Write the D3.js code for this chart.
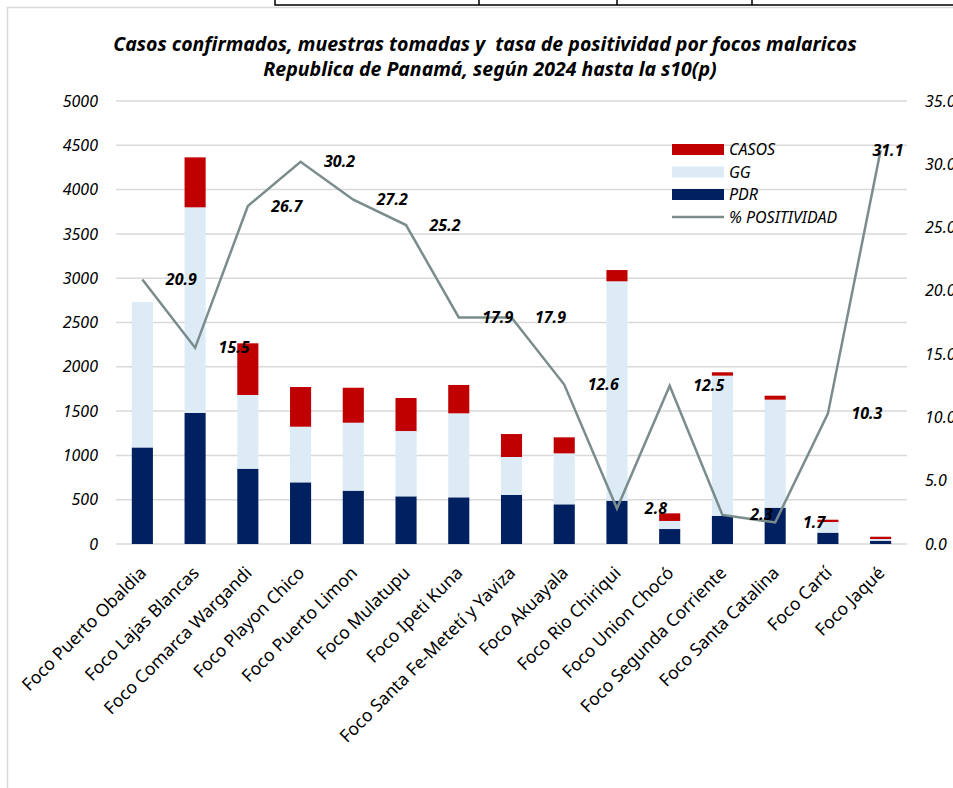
<!DOCTYPE html>
<html>
<head>
<meta charset="utf-8">
<script src="https://cdn.jsdelivr.net/npm/d3@7"></script>
<style>
  html, body { margin: 0; padding: 0; background: #fff; overflow: hidden; }
  svg { display: block; font-family: "Noto Sans", "Open Sans", sans-serif; }
</style>
</head>
<body>
<script>
// focos and values
var focos = ["Foco Puerto Obaldia", "Foco Lajas Blancas", "Foco Comarca Wargandi", "Foco Playon Chico",
  "Foco Puerto Limon", "Foco Mulatupu", "Foco Ipeti Kuna", "Foco Santa Fe-Metetí y Yaviza",
  "Foco Akuayala", "Foco Rio Chiriqui", "Foco Union Chocó", "Foco Segunda Corriente",
  "Foco Santa Catalina", "Foco Cartí", "Foco Jaqué"];
var pdr = [1090, 1480, 850, 696, 602, 538, 527, 553, 448, 489, 169, 316, 410, 128, 37];
var gg = [1640, 2320, 832, 628, 767, 737, 948, 429, 575, 2476, 91, 1584, 1219, 120, 19];
var casos = [0, 564, 583, 448, 395, 373, 320, 259, 181, 127, 86, 38, 45, 26, 26];
var positividad = [20.9, 15.5, 26.7, 30.2, 27.2, 25.2, 17.9, 17.9, 12.6, 2.8, 12.5, 2.3, 1.7, 10.3, 31.1];
var leftTicks = [0, 500, 1000, 1500, 2000, 2500, 3000, 3500, 4000, 4500, 5000];
var rightTicks = [0, 5, 10, 15, 20, 25, 30, 35];

var W = 953, H = 788;
var plot = {left: 116, right: 907, top: 101, bottom: 544};

var svg = d3.select("body").append("svg")
  .attr("width", W)
  .attr("height", H);

// bits of the spreadsheet table above the chart
svg.append("path")
  .attr("d", "M275,0V5H953M479,0V5M617,0V5M752,0V5")
  .attr("fill", "none")
  .attr("stroke", "#000")
  .attr("stroke-width", 1.5);

// chart frame (only top and left show)
svg.append("path")
  .attr("d", "M7.5," + H + "V7.5H" + W)
  .attr("fill", "none")
  .attr("stroke", "#d9d9d9")
  .attr("stroke-width", 1.5);

var x = d3.scaleBand()
  .domain(focos)
  .range([plot.left, plot.right])
  .paddingInner(0.6)
  .paddingOuter(0.3);

var y = d3.scaleLinear()
  .domain([0, 5000])
  .range([plot.bottom, plot.top]);

var y2 = d3.scaleLinear()
  .domain([0, 35])
  .range([plot.bottom, plot.top]);

// title
var title = svg.append("text")
  .attr("text-anchor", "middle")
  .attr("font-weight", "bold")
  .attr("font-style", "italic")
  .attr("font-size", 19.5)
  .style("white-space", "pre");
title.append("tspan").attr("x", 485).attr("y", 51)
  .text("Casos confirmados, muestras tomadas y  tasa de positividad por focos malaricos");
title.append("tspan").attr("x", 490).attr("y", 76)
  .text("Republica de Panamá, según 2024 hasta la s10(p)");

// gridlines
svg.append("g")
  .selectAll("line")
  .data(leftTicks)
  .enter().append("line")
    .attr("x1", plot.left)
    .attr("x2", plot.right)
    .attr("y1", function(d) { return y(d); })
    .attr("y2", function(d) { return y(d); })
    .attr("stroke", "#d9d9d9")
    .attr("stroke-width", 1.5);

// left axis
var yAxis = d3.axisLeft(y).tickValues(leftTicks).tickSize(0).tickPadding(0).tickFormat(d3.format("d"));
svg.append("g")
  .attr("transform", "translate(98,0)")
  .call(yAxis)
  .call(function(g) { g.select(".domain").remove(); })
  .selectAll("text")
    .attr("font-family", "Noto Sans")
    .attr("font-style", "italic")
    .attr("font-size", 16)
    .attr("fill", "#000");

// right axis (cut by the window edge, as in the original)
var y2Axis = d3.axisRight(y2).tickValues(rightTicks).tickSize(0).tickPadding(0).tickFormat(d3.format(".1f"));
svg.append("g")
  .attr("transform", "translate(925,0)")
  .call(y2Axis)
  .call(function(g) { g.select(".domain").remove(); })
  .selectAll("text")
    .attr("font-family", "Noto Sans")
    .attr("font-style", "italic")
    .attr("font-size", 16)
    .attr("fill", "#000");

// stacked bars
var rows = focos.map(function(f, i) {
  return {foco: f, PDR: pdr[i], GG: gg[i], CASOS: casos[i]};
});
var keys = ["PDR", "GG", "CASOS"];
var colors = {PDR: "#002060", GG: "#DDEBF7", CASOS: "#C00000"};
var stacked = d3.stack().keys(keys)(rows);

svg.append("g")
  .selectAll("g")
  .data(stacked)
  .enter().append("g")
    .attr("fill", function(d) { return colors[d.key]; })
  .selectAll("rect")
  .data(function(d) { return d; })
  .enter().append("rect")
    .attr("x", function(d) { return x(d.data.foco); })
    .attr("width", x.bandwidth())
    .attr("y", function(d) { return y(d[1]); })
    .attr("height", function(d) { return y(d[0]) - y(d[1]); });

// positivity line
var line = d3.line()
  .x(function(d, i) { return x(focos[i]) + x.bandwidth() / 2; })
  .y(function(d) { return y2(d); });

svg.append("path")
  .datum(positividad)
  .attr("d", line)
  .attr("fill", "none")
  .attr("stroke", "#7B8C8C")
  .attr("stroke-width", 2.5)
  .attr("stroke-linejoin", "miter");

// data labels, to the right of each point
svg.append("g")
  .selectAll("text")
  .data(positividad)
  .enter().append("text")
    .attr("x", function(d, i) { return Math.min(x(focos[i]) + x.bandwidth() / 2 + 39, plot.right - 19); })
    .attr("y", function(d) { return y2(d); })
    .attr("dy", "0.35em")
    .attr("text-anchor", "middle")
    .attr("font-weight", "bold")
    .attr("font-style", "italic")
    .attr("font-size", 16)
    .text(function(d) { return d.toFixed(1); });

// category labels
svg.append("g")
  .selectAll("text")
  .data(focos)
  .enter().append("text")
    .attr("transform", function(d) {
      return "translate(" + (x(d) + x.bandwidth() / 2 + 5) + ",574) rotate(-45)";
    })
    .attr("text-anchor", "end")
    .attr("font-size", 17.5)
    .text(function(d) { return d; });

// legend
var legendItems = [
  {name: "CASOS", type: "rect", color: colors.CASOS},
  {name: "GG", type: "rect", color: colors.GG},
  {name: "PDR", type: "rect", color: colors.PDR},
  {name: "% POSITIVIDAD", type: "line", color: "#7B8C8C"}
];
var legend = svg.append("g")
  .selectAll("g")
  .data(legendItems)
  .enter().append("g")
    .attr("transform", function(d, i) { return "translate(672," + (149.5 + i * 22.5) + ")"; });

legend.filter(function(d) { return d.type == "rect"; })
  .append("rect")
    .attr("x", 0)
    .attr("y", -5.5)
    .attr("width", 52)
    .attr("height", 11)
    .attr("fill", function(d) { return d.color; });

legend.filter(function(d) { return d.type == "line"; })
  .append("line")
    .attr("x1", 0)
    .attr("x2", 52)
    .attr("stroke", function(d) { return d.color; })
    .attr("stroke-width", 2.5);

legend.append("text")
  .attr("x", 57)
  .attr("dy", "0.35em")
  .attr("font-style", "italic")
  .attr("font-size", 16)
  .text(function(d) { return d.name; });
</script>
</body>
</html>
